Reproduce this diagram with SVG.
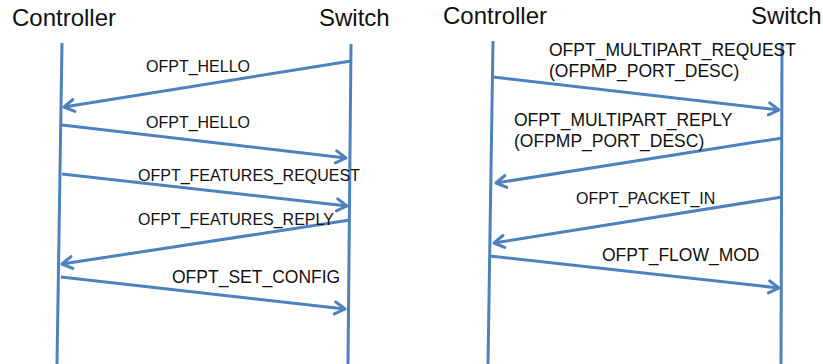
<svg xmlns="http://www.w3.org/2000/svg" width="823" height="364" viewBox="0 0 823 364">
<style>
.bg{fill:#ffffff}
.life{stroke:#4f81bd;stroke-width:3;fill:none}
.msg{stroke:#4f81bd;stroke-width:3;fill:none;marker-end:url(#ah)}
.head{font-family:"Liberation Sans",Arial,sans-serif;font-size:24px;fill:#111}
.lbl{font-family:"Liberation Sans",Arial,sans-serif;font-size:16px;fill:#111}
.lbl2{font-family:"Liberation Sans",Arial,sans-serif;font-size:17.5px;fill:#111}
</style>
<defs>
<marker id="ah" markerUnits="userSpaceOnUse" markerWidth="16" markerHeight="16" refX="12" refY="7" orient="auto" viewBox="0 0 16 14">
<path d="M2,1 L12,7 L2,13" fill="none" stroke="#4f81bd" stroke-width="3" stroke-linecap="round" stroke-linejoin="round"/>
</marker>
</defs>
<rect class="bg" x="0" y="0" width="823" height="364"/>
<g id="left-controller">
<text class="head" x="12" y="26">Controller</text>
<line class="life" x1="62" y1="43" x2="57" y2="364"/>
</g>
<g id="left-switch">
<text class="head" x="319" y="26">Switch</text>
<line class="life" x1="351" y1="44" x2="348" y2="364"/>
</g>
<g id="right-controller">
<text class="head" x="443" y="24">Controller</text>
<line class="life" x1="493" y1="41" x2="488" y2="364"/>
</g>
<g id="right-switch">
<text class="head" x="751" y="24">Switch</text>
<line class="life" x1="782" y1="43" x2="781" y2="364"/>
</g>
<g id="connectors">
<line class="msg" x1="351" y1="61" x2="64" y2="107"/>
<line class="msg" x1="62" y1="125" x2="346" y2="158"/>
<line class="msg" x1="62" y1="174" x2="347" y2="206"/>
<line class="msg" x1="350" y1="220" x2="62" y2="264"/>
<line class="msg" x1="61" y1="277" x2="345" y2="309"/>
<line class="msg" x1="493" y1="77" x2="779" y2="110"/>
<line class="msg" x1="782" y1="138" x2="496" y2="183"/>
<line class="msg" x1="782" y1="197" x2="494" y2="243"/>
<line class="msg" x1="490" y1="256" x2="779" y2="288"/>
</g>
<g id="labels">
<text class="lbl" x="146" y="72">OFPT_HELLO</text>
<text class="lbl" x="146" y="128">OFPT_HELLO</text>
<text class="lbl" x="138" y="181">OFPT_FEATURES_REQUEST</text>
<text class="lbl" x="138" y="225">OFPT_FEATURES_REPLY</text>
<text class="lbl2" x="172" y="283">OFPT_SET_CONFIG</text>
<text class="lbl2" x="549" y="56">OFPT_MULTIPART_REQUEST</text>
<text class="lbl2" x="549" y="77">(OFPMP_PORT_DESC)</text>
<text class="lbl2" x="514" y="126">OFPT_MULTIPART_REPLY</text>
<text class="lbl2" x="514" y="147">(OFPMP_PORT_DESC)</text>
<text class="lbl" x="576" y="204">OFPT_PACKET_IN</text>
<text class="lbl2" x="602" y="261">OFPT_FLOW_MOD</text>
</g>
</svg>
